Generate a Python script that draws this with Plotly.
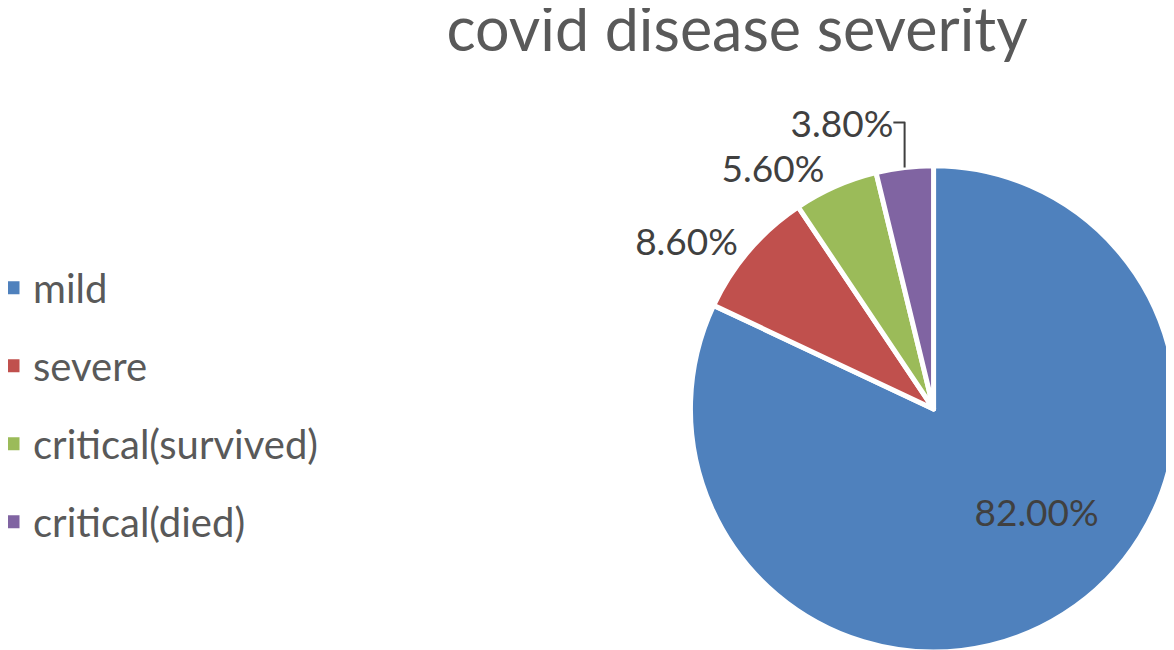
import plotly.graph_objects as go

categories = ["mild", "severe", "critical(survived)", "critical(died)"]
values = [82.0, 8.6, 5.6, 3.8]
colors = ["#4F81BD", "#C0504D", "#9BBB59", "#8064A2"]
title_text = "covid disease severity"

FONT = "Lato, 'Open Sans', sans-serif"
NB = "\u00a0"

fig = go.Figure()
fig.add_trace(go.Pie(
    labels=categories,
    values=values,
    sort=False,
    direction="clockwise",
    rotation=0,
    marker=dict(colors=colors, line=dict(color="white", width=5)),
    texttemplate=[NB * 8 + "%{value:.2f}%", "%{value:.2f}%", "%{value:.2f}%", "%{value:.2f}%"],
    textposition=["inside", "outside", "outside", "outside"],
    textfont=dict(family=FONT, size=37, color="#404040"),
    insidetextorientation="horizontal",
    domain=dict(x=[0.5835, 1.0], y=[0.0, 0.755]),
    showlegend=False,
    hoverinfo="label+percent",
))

for name, col in zip(categories, colors):
    fig.add_trace(go.Scatter(
        x=[None], y=[None], mode="markers", name=name, legendgroup=name,
        marker=dict(symbol="square", size=13, color=col),
    ))

fig.update_layout(
    width=1174, height=650,
    paper_bgcolor="white", plot_bgcolor="white",
    margin=dict(l=0, r=0, t=0, b=0),
    title=dict(text=title_text, x=0.621, xanchor="center", y=0.999, yanchor="top",
               font=dict(family=FONT, size=61, color="#595959")),
    xaxis=dict(visible=False), yaxis=dict(visible=False),
    legend=dict(x=0, xanchor="left", y=0.616, yanchor="top",
                font=dict(family=FONT, size=40, color="#595959"),
                tracegroupgap=23, itemwidth=30, indentation=-15,
                bgcolor="rgba(0,0,0,0)"),
)

fig.write_html("out.html")
